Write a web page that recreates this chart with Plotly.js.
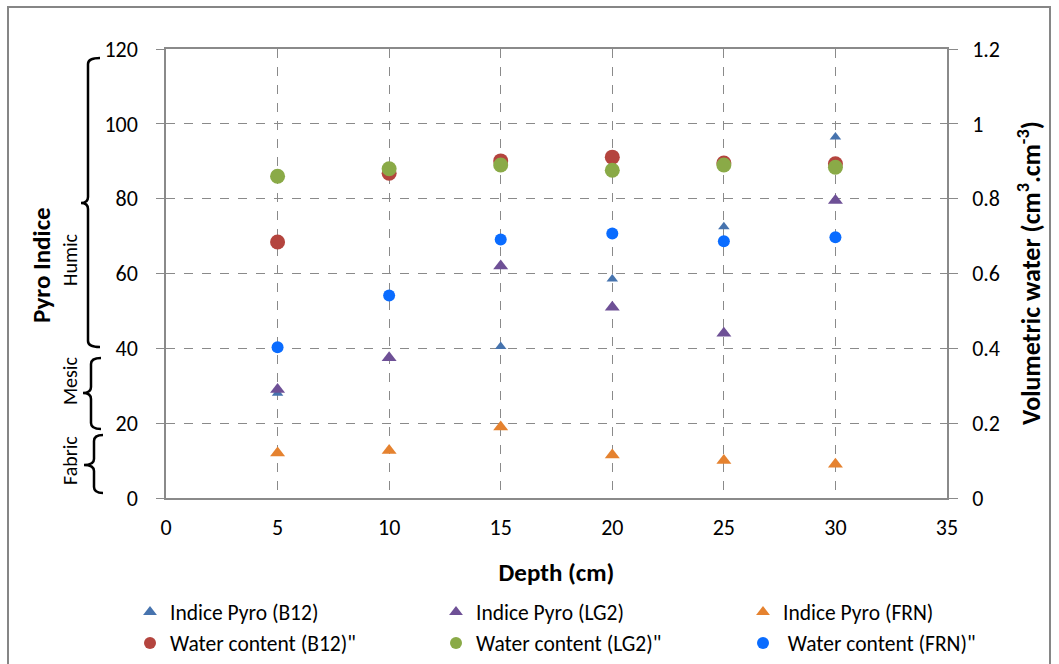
<!DOCTYPE html>
<html>
<head>
<meta charset="utf-8">
<script src="https://cdn.plot.ly/plotly-3.0.1.min.js"></script>
<style>
  html, body { margin: 0; padding: 0; background: #ffffff; }
  #chart { width: 1059px; height: 664px; }
</style>
</head>
<body>
<div id="chart"></div>
<script>
// ---- data ----
const depth = [5, 10, 15, 20, 25, 30];
const pyroB12 = [28, 37.5, 40.5, 58.5, 72.5, 96.5];
const pyroLG2 = [29, 37.5, 62, 51, 44, 79.5];
const pyroFRN = [12, 12.7, 19, 11.5, 10, 9];
const waterB12 = [0.684, 0.868, 0.901, 0.911, 0.895, 0.893];
const waterLG2 = [0.86, 0.88, 0.89, 0.876, 0.89, 0.884];
const waterFRN = [0.403, 0.541, 0.691, 0.707, 0.686, 0.697];

const namesPyro = ['Indice Pyro (B12)', 'Indice Pyro (LG2)', 'Indice Pyro (FRN)'];
const namesWater = ['Water content (B12)"', 'Water content (LG2)"', ' Water content (FRN)"'];
const classLabels = ['Humic', 'Mesic', 'Fabric'];
const xTicks = [0, 5, 10, 15, 20, 25, 30, 35];

// ---- layout geometry helpers (pixels -> paper / container) ----
const W = 1059, H = 664;
const M = {l: 166, r: 112, t: 49, b: 166, autoexpand: false};
const PW = W - M.l - M.r, PH = H - M.t - M.b;
const px = v => (v - M.l) / PW;
const py = v => (H - M.b - v) / PH;
const cx = v => v / W;
const cy = v => 1 - v / H;

const FONT = "Carlito, 'Liberation Sans Narrow', 'Liberation Sans', Arial, sans-serif";

const traces = [
  {x: depth, y: pyroB12, name: namesPyro[0], type: 'scatter', mode: 'markers', legend: 'legend',
   marker: {symbol: 'triangle-up', size: 10, color: '#4673AE'}},
  {x: depth, y: pyroLG2, name: namesPyro[1], type: 'scatter', mode: 'markers', legend: 'legend2',
   marker: {symbol: 'triangle-up', size: 13, color: '#6E5096'}},
  {x: depth, y: pyroFRN, name: namesPyro[2], type: 'scatter', mode: 'markers', legend: 'legend3',
   marker: {symbol: 'triangle-up', size: 13, color: '#E5822F'}},
  {x: depth, y: waterB12, name: namesWater[0], type: 'scatter', mode: 'markers', yaxis: 'y2', legend: 'legend4',
   marker: {symbol: 'circle', size: 15, color: '#B4443E'}},
  {x: depth, y: waterLG2, name: namesWater[1], type: 'scatter', mode: 'markers', yaxis: 'y2', legend: 'legend5',
   marker: {symbol: 'circle', size: 15, color: '#8AAA47'}},
  {x: depth, y: waterFRN, name: namesWater[2], type: 'scatter', mode: 'markers', yaxis: 'y2', legend: 'legend6',
   marker: {symbol: 'circle', size: 12, color: '#0A6CFF'}}
];

function brace(xv, xh, xt, yTop, yTip, yBot) {
  const c = 6;
  return `M ${px(xh)},${py(yTop)} Q ${px(xv)},${py(yTop)} ${px(xv)},${py(yTop + c)} ` +
         `L ${px(xv)},${py(yTip - c)} Q ${px(xv)},${py(yTip)} ${px(xt)},${py(yTip)} ` +
         `Q ${px(xv)},${py(yTip)} ${px(xv)},${py(yTip + c)} ` +
         `L ${px(xv)},${py(yBot - c)} Q ${px(xv)},${py(yBot)} ${px(xh)},${py(yBot)}`;
}

const shapes = [
  {type: 'path', xref: 'paper', yref: 'paper', path: brace(88, 100, 81, 58, 203, 347), line: {color: '#000', width: 2.5}},
  {type: 'path', xref: 'paper', yref: 'paper', path: brace(91, 101, 83, 358, 393, 429), line: {color: '#000', width: 2.5}},
  {type: 'path', xref: 'paper', yref: 'paper', path: brace(94, 103, 84, 435, 465, 493), line: {color: '#000', width: 2.5}},
  {type: 'rect', xref: 'paper', yref: 'paper', x0: px(8), x1: px(1050), y0: py(7), y1: py(690),
   line: {color: '#868686', width: 2}, fillcolor: 'rgba(0,0,0,0)'}
];

function vlabel(xPx, yPx, text, size) {
  return {xref: 'paper', yref: 'paper', x: px(xPx), y: py(yPx), xanchor: 'center', yanchor: 'middle',
          text: text, textangle: -90, showarrow: false, font: {family: FONT, size: size, color: '#000'}};
}

const annotations = [
  vlabel(41, 265, '<b>Pyro Indice</b>', 25),
  vlabel(70, 260, classLabels[0], 20),
  vlabel(70, 381, classLabels[1], 20),
  vlabel(70, 461, classLabels[2], 20),
  vlabel(1029, 273, '<b>Volumetric water (cm<sup>3</sup>.cm<sup>-3</sup>)</b>', 26)
];

function legendAt(leftPx, rowPx) {
  return {
    orientation: 'h', xref: 'container', yref: 'container',
    x: cx(leftPx), xanchor: 'left', y: cy(rowPx), yanchor: 'middle',
    itemsizing: 'constant', borderwidth: 0,
    font: {family: FONT, size: 21.5, color: '#000'}, bgcolor: 'rgba(0,0,0,0)'
  };
}

const layout = {
  width: W, height: H,
  margin: M,
  paper_bgcolor: '#ffffff', plot_bgcolor: '#ffffff',
  font: {family: FONT, size: 22, color: '#000'},
  showlegend: true,
  xaxis: {
    range: [0, 35], tickvals: xTicks, ticktext: xTicks.map(String),
    showgrid: true, gridcolor: '#8a8a8a', griddash: 'dash', gridwidth: 1,
    showline: true, linecolor: '#8a8a8a', linewidth: 1.5, mirror: true,
    ticks: '', zeroline: false, ticklabelstandoff: 9,
    tickfont: {family: FONT, size: 22, color: '#000'},
    title: {text: '<b>Depth (cm)</b>', font: {family: FONT, size: 25, color: '#000'}, standoff: 23}
  },
  yaxis: {
    range: [0, 120], dtick: 20, tick0: 0,
    showgrid: true, gridcolor: '#8a8a8a', griddash: 'dash', gridwidth: 1,
    showline: true, linecolor: '#8a8a8a', linewidth: 1.5,
    ticks: 'outside', ticklen: 8, tickcolor: '#8a8a8a', zeroline: false, ticklabelstandoff: 14,
    tickfont: {family: FONT, size: 22, color: '#000'}
  },
  yaxis2: {
    range: [0, 1.2], dtick: 0.2, tick0: 0, overlaying: 'y', side: 'right',
    showgrid: false, showline: true, linecolor: '#8a8a8a', linewidth: 1.5,
    ticks: 'outside', ticklen: 9, tickcolor: '#8a8a8a', zeroline: false, ticklabelstandoff: 10,
    tickfont: {family: FONT, size: 22, color: '#000'}
  },
  legend: legendAt(130, 612),
  legend2: legendAt(436, 612),
  legend3: legendAt(743, 612),
  legend4: legendAt(130, 643),
  legend5: legendAt(436, 643),
  legend6: legendAt(743, 643),
  shapes: shapes,
  annotations: annotations
};

Plotly.newPlot('chart', traces, layout, {displayModeBar: false, responsive: false});
</script>
</body>
</html>
